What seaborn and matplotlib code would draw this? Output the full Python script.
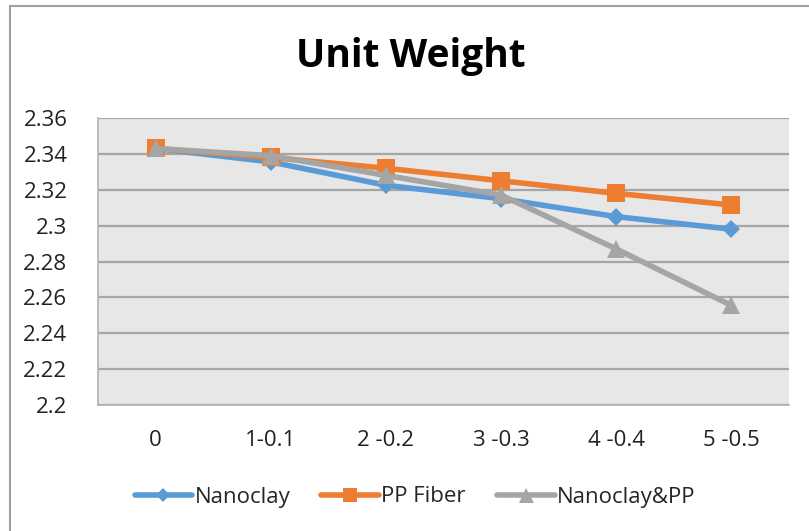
import matplotlib
matplotlib.use("Agg")
import matplotlib.pyplot as plt
import seaborn as sns
import pandas as pd
from matplotlib.lines import Line2D

categories = ["0", "1-0.1", "2 -0.2", "3 -0.3", "4 -0.4", "5 -0.5"]
nanoclay = [2.343, 2.3355, 2.3225, 2.315, 2.305, 2.298]
pp_fiber = [2.343, 2.338, 2.332, 2.325, 2.318, 2.3115]
nano_pp = [2.343, 2.339, 2.328, 2.317, 2.287, 2.2555]
series_names = ["Nanoclay", "PP Fiber", "Nanoclay&PP"]
y_ticks = [2.2, 2.22, 2.24, 2.26, 2.28, 2.3, 2.32, 2.34, 2.36]
y_tick_labels = ["2.2", "2.22", "2.24", "2.26", "2.28", "2.3", "2.32", "2.34", "2.36"]

colors = ["#5B9BD5", "#ED7D31", "#A5A5A5"]
markers = ["D", "s", "^"]
msizes = [9.5, 13, 13.5]

sns.set_theme(style="white")
plt.rcParams["font.family"] = ["Open Sans", "DejaVu Sans"]

fig = plt.figure(figsize=(8.09, 5.31), dpi=100)
ax = fig.add_axes([98 / 809, 1 - 405 / 531, (789 - 98) / 809, (405 - 118) / 531])
ax.set_facecolor("#E7E7E7")

df = pd.DataFrame({
    "x": list(range(len(categories))) * 3,
    "y": nanoclay + pp_fiber + nano_pp,
    "s": sum([[n] * len(categories) for n in series_names], []),
})

for name, c, m, ms in zip(series_names, colors, markers, msizes):
    sub = df[df["s"] == name]
    sns.lineplot(data=sub, x="x", y="y", ax=ax, color=c, linewidth=4.0,
                 marker=m, markersize=ms, markeredgewidth=0, legend=False)

ax.set_xlim(-0.5, len(categories) - 0.5)
ax.set_ylim(2.2, 2.36)
ax.set_yticks(y_ticks)
ax.set_yticklabels(y_tick_labels)
ax.set_xticks(range(len(categories)))
ax.set_xticklabels(categories)
ax.tick_params(axis="both", labelsize=16, colors="#222222", length=0)
ax.tick_params(axis="x", pad=18)
ax.tick_params(axis="y", pad=22)
ax.set_xlabel("")
ax.set_ylabel("")
ax.yaxis.grid(True, color="#A6A6A6", linewidth=1.6)
ax.set_axisbelow(True)
for sp in ax.spines.values():
    sp.set_color("#B0B0B0")
    sp.set_linewidth(1.2)
ax.spines["top"].set_visible(False)
ax.spines["right"].set_visible(False)

fig.text(411 / 809, 1 - 57 / 531, "Unit Weight", ha="center", va="center",
         fontsize=28, fontweight="bold", color="black")

handles = [Line2D([0], [0], color=c, marker=m, markersize=ms * 0.8, linewidth=4.0,
                  markeredgewidth=0) for c, m, ms in zip(colors, markers, msizes)]
fig.legend(handles, series_names, loc="center", bbox_to_anchor=(415 / 809, 1 - 497 / 531),
           ncol=3, frameon=False, fontsize=16, handlelength=2.6, handletextpad=0.1,
           columnspacing=1.4)

# outer chart frame
fig.add_artist(Line2D([10 / 809, 1.0], [1 - 6 / 531] * 2, color="#A0A0A0", linewidth=1.5,
                      transform=fig.transFigure))
fig.add_artist(Line2D([10 / 809] * 2, [0, 1 - 6 / 531], color="#A0A0A0", linewidth=1.5,
                      transform=fig.transFigure))

fig.savefig("out.png", dpi=100)
